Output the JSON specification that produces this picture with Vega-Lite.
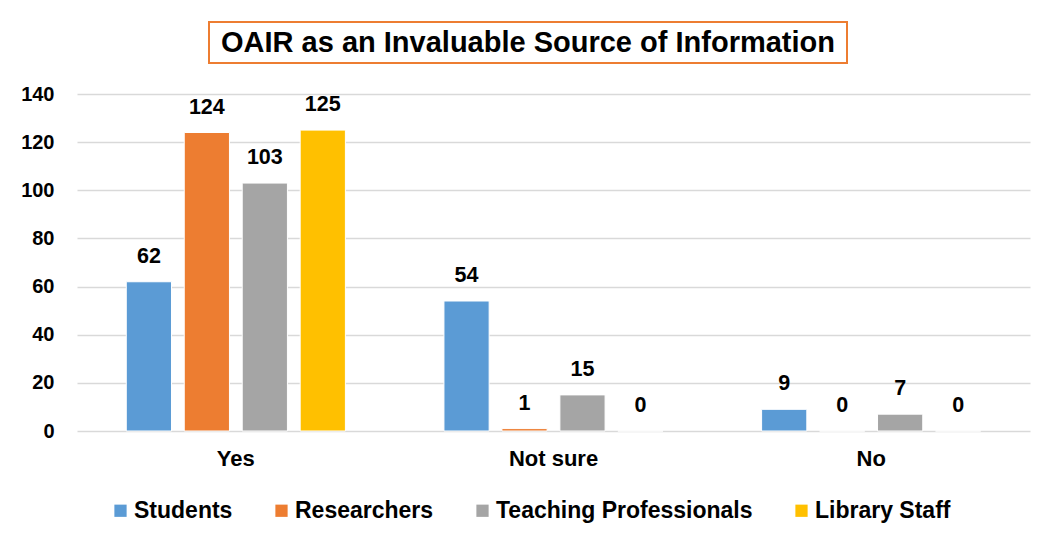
{
  "$schema": "https://vega.github.io/schema/vega-lite/v6.json",
  "padding": {"left": 20, "top": 21, "right": 5, "bottom": 5},
  "background": "white",
  "center": true,
  "spacing": 20,
  "config": {
    "font": "Liberation Sans",
    "view": {"stroke": null},
    "axis": {"labelFont": "Liberation Sans", "labelFontWeight": "bold", "labelColor": "#000000"}
  },
  "vconcat": [
    {
      "spacing": 0,
      "hconcat": [
        {
          "width": 638,
          "height": 41,
          "view": {"stroke": "#ED7D31", "strokeWidth": 2},
          "data": {"values": [{"title": "OAIR as an Invaluable Source of Information"}]},
          "mark": {"type": "text", "fontSize": 29, "fontWeight": "bold", "font": "Liberation Sans", "color": "#000000", "baseline": "middle", "align": "center"},
          "encoding": {"text": {"field": "title"}}
        },
        {
          "width": 50,
          "height": 41,
          "data": {"values": [{"blank": ""}]},
          "mark": {"type": "text"},
          "encoding": {"text": {"field": "blank"}}
        }
      ]
    },
    {
      "width": 953,
      "height": 337,
      "data": {
        "values": [
          {"response": "Yes", "group": "Students", "count": 62},
          {"response": "Yes", "group": "Researchers", "count": 124},
          {"response": "Yes", "group": "Teaching Professionals", "count": 103},
          {"response": "Yes", "group": "Library Staff", "count": 125},
          {"response": "Not sure", "group": "Students", "count": 54},
          {"response": "Not sure", "group": "Researchers", "count": 1},
          {"response": "Not sure", "group": "Teaching Professionals", "count": 15},
          {"response": "Not sure", "group": "Library Staff", "count": 0},
          {"response": "No", "group": "Students", "count": 9},
          {"response": "No", "group": "Researchers", "count": 0},
          {"response": "No", "group": "Teaching Professionals", "count": 7},
          {"response": "No", "group": "Library Staff", "count": 0}
        ]
      },
      "encoding": {
        "x": {
          "field": "response", "type": "nominal", "sort": ["Yes", "Not sure", "No"],
          "scale": {"paddingInner": 0, "paddingOuter": 0},
          "axis": {"title": null, "labelAngle": 0, "labelFontSize": 22, "ticks": false, "domain": false, "labelPadding": 17}
        },
        "xOffset": {
          "field": "group", "type": "nominal",
          "sort": ["Students", "Researchers", "Teaching Professionals", "Library Staff"],
          "scale": {"paddingInner": 0.22, "paddingOuter": 0.85}
        },
        "y": {
          "field": "count", "type": "quantitative",
          "scale": {"domain": [0, 140], "nice": false},
          "axis": {"title": null, "values": [0, 20, 40, 60, 80, 100, 120, 140], "labelFontSize": 20, "ticks": false, "domain": false, "labelPadding": 23, "grid": true, "gridColor": "#D9D9D9", "gridWidth": 1.5}
        }
      },
      "layer": [
        {
          "mark": {"type": "bar", "stroke": "white", "strokeWidth": 1},
          "encoding": {
            "color": {
              "field": "group", "type": "nominal",
              "sort": ["Students", "Researchers", "Teaching Professionals", "Library Staff"],
              "scale": {"domain": ["Students", "Researchers", "Teaching Professionals", "Library Staff"], "range": ["#5B9BD5", "#ED7D31", "#A5A5A5", "#FFC000"]},
              "legend": {
                "title": null, "orient": "none", "direction": "horizontal",
                "legendX": 32, "legendY": 477,
                "symbolType": "square", "symbolSize": 150, "symbolStrokeWidth": 0, "symbolOpacity": 1,
                "labelFontSize": 23, "labelFontWeight": "bold", "labelFont": "Liberation Sans", "labelColor": "#000000",
                "labelOffset": 2, "columnPadding": 37, "labelLimit": 0
              }
            }
          }
        },
        {
          "mark": {"type": "text", "fontSize": 21.5, "fontWeight": "bold", "font": "Liberation Sans", "color": "#000000", "baseline": "alphabetic", "dy": -19},
          "encoding": {"text": {"field": "count", "type": "quantitative"}}
        }
      ]
    }
  ]
}
